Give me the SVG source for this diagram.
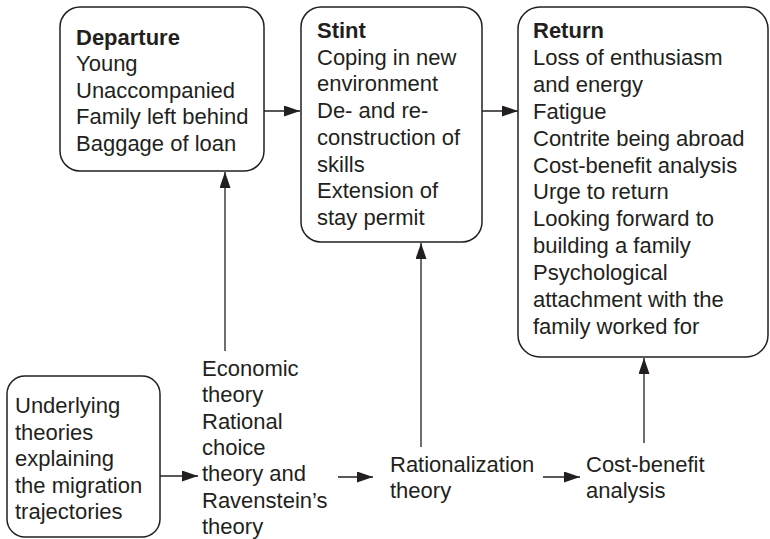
<svg xmlns="http://www.w3.org/2000/svg" width="770" height="539" viewBox="0 0 770 539">
<defs>
<style>
.box{fill:#fff;stroke:#231f20;stroke-width:1.5}
.t{font-family:"Liberation Sans",Arial,sans-serif;font-size:22px;fill:#231f20}
.b{font-weight:bold}
.c{stroke:#231f20;stroke-width:1.3;fill:none}
</style>
<marker id="ah" markerUnits="userSpaceOnUse" markerWidth="16" markerHeight="11" refX="16" refY="5.5" orient="auto">
<path d="M0,0 L16,5.5 L0,11 z" fill="#231f20"/>
</marker>
</defs>
<rect width="770" height="539" fill="#fff"/>
<g id="departure">
<rect class="box" x="60" y="7" width="204" height="164" rx="20"/>
<text class="t" x="76"><tspan class="b" x="76" y="45">Departure</tspan><tspan x="76" y="71.4">Young</tspan><tspan x="76" y="97.8">Unaccompanied</tspan><tspan x="76" y="124.2">Family left behind</tspan><tspan x="76" y="150.6">Baggage of loan</tspan></text>
</g>
<g id="stint">
<rect class="box" x="301" y="7" width="181" height="235" rx="20"/>
<text class="t"><tspan class="b" x="317" y="38">Stint</tspan><tspan x="317" y="64.7">Coping in new</tspan><tspan x="317" y="91.4">environment</tspan><tspan x="317" y="118.1">De- and re-</tspan><tspan x="317" y="144.8">construction of</tspan><tspan x="317" y="171.5">skills</tspan><tspan x="317" y="198.2">Extension of</tspan><tspan x="317" y="224.9">stay permit</tspan></text>
</g>
<g id="return">
<rect class="box" x="518" y="7" width="250" height="350" rx="22"/>
<text class="t"><tspan class="b" x="533" y="38">Return</tspan><tspan x="533" y="64.9">Loss of enthusiasm</tspan><tspan x="533" y="91.8">and energy</tspan><tspan x="533" y="118.7">Fatigue</tspan><tspan x="533" y="145.6">Contrite being abroad</tspan><tspan x="533" y="172.5">Cost-benefit analysis</tspan><tspan x="533" y="199.4">Urge to return</tspan><tspan x="533" y="226.3">Looking forward to</tspan><tspan x="533" y="253.2">building a family</tspan><tspan x="533" y="280.1">Psychological</tspan><tspan x="533" y="307">attachment with the</tspan><tspan x="533" y="333.9">family worked for</tspan></text>
</g>
<g id="underlying">
<rect class="box" x="7" y="376" width="153" height="161" rx="18"/>
<text class="t"><tspan x="15" y="413">Underlying</tspan><tspan x="15" y="439.5">theories</tspan><tspan x="15" y="466">explaining</tspan><tspan x="15" y="492.5">the migration</tspan><tspan x="15" y="519">trajectories</tspan></text>
</g>
<g id="economic">
<text class="t"><tspan x="202" y="376">Economic</tspan><tspan x="202" y="402.3">theory</tspan><tspan x="202" y="428.6">Rational</tspan><tspan x="202" y="454.9">choice</tspan><tspan x="202" y="481.2">theory and</tspan><tspan x="202" y="507.5">Ravenstein’s</tspan><tspan x="202" y="533.8">theory</tspan></text>
</g>
<g id="rationalization">
<text class="t"><tspan x="390" y="472">Rationalization</tspan><tspan x="390" y="498">theory</tspan></text>
</g>
<g id="costbenefit">
<text class="t"><tspan x="586" y="472">Cost-benefit</tspan><tspan x="586" y="498">analysis</tspan></text>
</g>
<g id="connectors">
<line class="c" x1="264" y1="111" x2="300" y2="111" marker-end="url(#ah)"/>
<line class="c" x1="482" y1="111" x2="518" y2="111" marker-end="url(#ah)"/>
<line class="c" x1="160" y1="476" x2="198" y2="476" marker-end="url(#ah)"/>
<line class="c" x1="338" y1="477" x2="373" y2="477" marker-end="url(#ah)"/>
<line class="c" x1="543" y1="477" x2="580" y2="477" marker-end="url(#ah)"/>
<line class="c" x1="225" y1="351" x2="225" y2="172" marker-end="url(#ah)"/>
<line class="c" x1="421" y1="447" x2="421" y2="243" marker-end="url(#ah)"/>
<line class="c" x1="644" y1="443" x2="644" y2="358" marker-end="url(#ah)"/>
</g>
</svg>
